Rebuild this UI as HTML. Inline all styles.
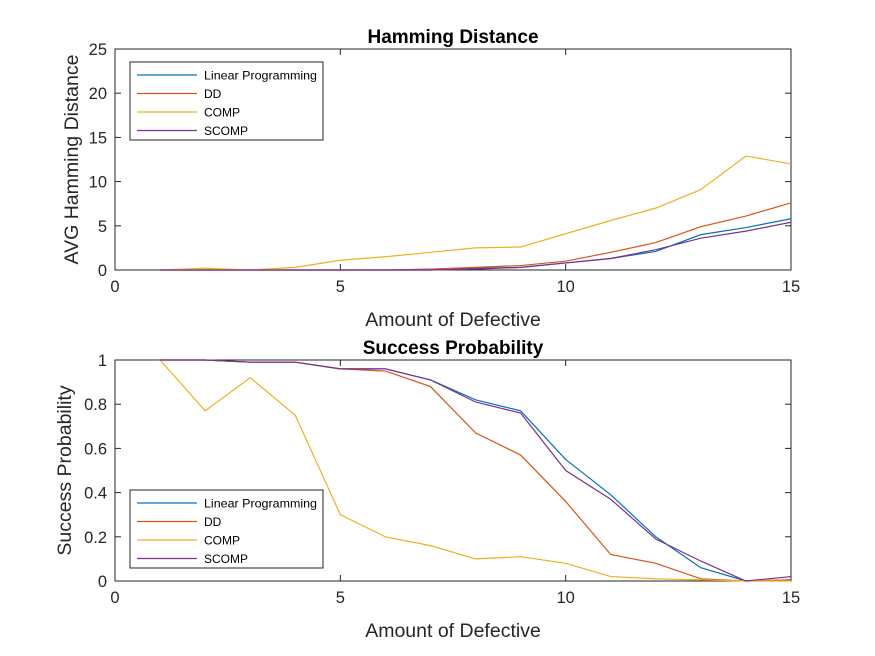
<!DOCTYPE html>
<html><head><meta charset="utf-8"><style>body{margin:0;background:#fff}svg{display:block;font-family:"Liberation Sans",Arial,sans-serif}</style></head>
<body>
<svg id="fig" width="875" height="656" viewBox="0 0 875 656"></svg>
<script>
const xs=[1,2,3,4,5,6,7,8,9,10,11,12,13,14,15];
const seriesNames=["Linear Programming","DD","COMP","SCOMP"];
const colors=["#0072BD","#D95319","#EDB120","#7E2F8E"];
const hamLP=[0,0,0,0,0,0,0,0.2,0.3,0.8,1.3,2.1,4.0,4.8,5.8];
const hamDD=[0,0,0,0,0,0,0.1,0.3,0.5,1.0,2.0,3.1,4.9,6.1,7.6];
const hamCOMP=[0,0.2,0,0.3,1.1,1.5,2.0,2.5,2.6,4.1,5.6,7.0,9.1,12.9,12.0];
const hamSCOMP=[0,0,0,0,0,0,0,0.1,0.3,0.8,1.3,2.3,3.6,4.4,5.4];
const spLP=[1,1,0.99,0.99,0.96,0.96,0.91,0.82,0.77,0.55,0.39,0.2,0.06,0,0.005];
const spDD=[1,1,0.99,0.99,0.96,0.95,0.88,0.67,0.57,0.36,0.12,0.08,0.01,0,0.005];
const spCOMP=[1,0.77,0.92,0.75,0.30,0.20,0.16,0.10,0.11,0.08,0.02,0.01,0.005,0,0];
const spSCOMP=[1,1,0.99,0.99,0.96,0.96,0.91,0.81,0.76,0.50,0.37,0.19,0.09,0,0.02];
const xTicks=[0,5,10,15];
const yTicksTop=[0,5,10,15,20,25];
const yTicksBot=[0,0.2,0.4,0.6,0.8,1];
const yTickLabelsBot=["0","0.2","0.4","0.6","0.8","1"];

const NS="http://www.w3.org/2000/svg";
const svg=document.getElementById('fig');
function mk(tag,attrs,parent){const e=document.createElementNS(NS,tag);for(const k in attrs)e.setAttribute(k,attrs[k]);(parent||svg).appendChild(e);return e;}

function axes(cfg){
  const L=115,R=791,T=cfg.top,B=cfg.top+221;
  const sx=v=>L+(v-0)/15*(R-L);
  const sy=v=>B-(v-cfg.ymin)/(cfg.ymax-cfg.ymin)*(B-T);
  const g=mk('g',{});
  
  
  const box=mk('rect',{x:L,y:T,width:R-L,height:B-T,fill:'#fff',stroke:'#262626','stroke-width':1},g);
  
  
  xTicks.forEach(t=>{
    const x=sx(t);
    mk('line',{x1:x,y1:B,x2:x,y2:B-6,stroke:'#262626'},g);
    mk('line',{x1:x,y1:T,x2:x,y2:T+6,stroke:'#262626'},g);
    const tx=mk('text',{x:x,y:B+22,'font-size':16.5,'text-anchor':'middle',fill:'#262626'},g);
    tx.textContent=t;
    
    
  });
  cfg.yTicks.forEach((t,i)=>{
    const y=sy(t);
    mk('line',{x1:L,y1:y,x2:L+6,y2:y,stroke:'#262626'},g);
    mk('line',{x1:R,y1:y,x2:R-6,y2:y,stroke:'#262626'},g);
    const ty=mk('text',{x:L-8,y:y+6,'font-size':16.5,'text-anchor':'end',fill:'#262626'},g);
    ty.textContent=cfg.yLabels[i];
    
    
  });
  cfg.data.forEach((d,i)=>{
    const pts=xs.map((x,j)=>sx(x)+','+sy(d[j])).join(' ');
    const pl=mk('polyline',{points:pts,fill:'none',stroke:colors[i],'stroke-width':1.2},g);
    
    
  });
  const t=mk('text',{x:(L+R)/2,y:T-6,'font-size':19,'font-weight':'bold','text-anchor':'middle',fill:'#000'},g);
  t.textContent=cfg.title;
  
  
  const xl=mk('text',{x:(L+R)/2,y:B+56,'font-size':19.5,'text-anchor':'middle',fill:'#262626'},g);
  xl.textContent='Amount of Defective';
  
  
  const yl=mk('text',{x:0,y:0,'font-size':19.5,'text-anchor':'middle',fill:'#262626',transform:`translate(${cfg.ylx},${(T+B)/2}) rotate(-90)`},g);
  yl.textContent=cfg.ylabel;
  
  
  const lg=mk('g',{},g);
  
  
  mk('rect',{x:130,y:cfg.legY,width:193,height:78,fill:'#fff',stroke:'#262626'},lg);
  seriesNames.forEach((n,i)=>{
    const y=cfg.legY+13+i*18.5;
    mk('line',{x1:137,y1:y,x2:197,y2:y,stroke:colors[i],'stroke-width':1.2},lg);
    const lt=mk('text',{x:204,y:y+4.5,'font-size':12,fill:'#000',textLength:113,lengthAdjust:'spacingAndGlyphs'},lg);
    if(n!=="Linear Programming")lt.removeAttribute('textLength');
    lt.textContent=n;
    
    
  });
}
axes({name:'hamming-chart',top:49,ymin:0,ymax:25,yTicks:yTicksTop,yLabels:yTicksTop.map(String),data:[hamLP,hamDD,hamCOMP,hamSCOMP],title:'Hamming Distance',ylabel:'AVG Hamming Distance',ylx:78,legY:62});
axes({name:'success-chart',top:360,ymin:0,ymax:1,yTicks:yTicksBot,yLabels:yTickLabelsBot,data:[spLP,spDD,spCOMP,spSCOMP],title:'Success Probability',ylabel:'Success Probability',ylx:71,legY:490});
</script>
</body></html>
